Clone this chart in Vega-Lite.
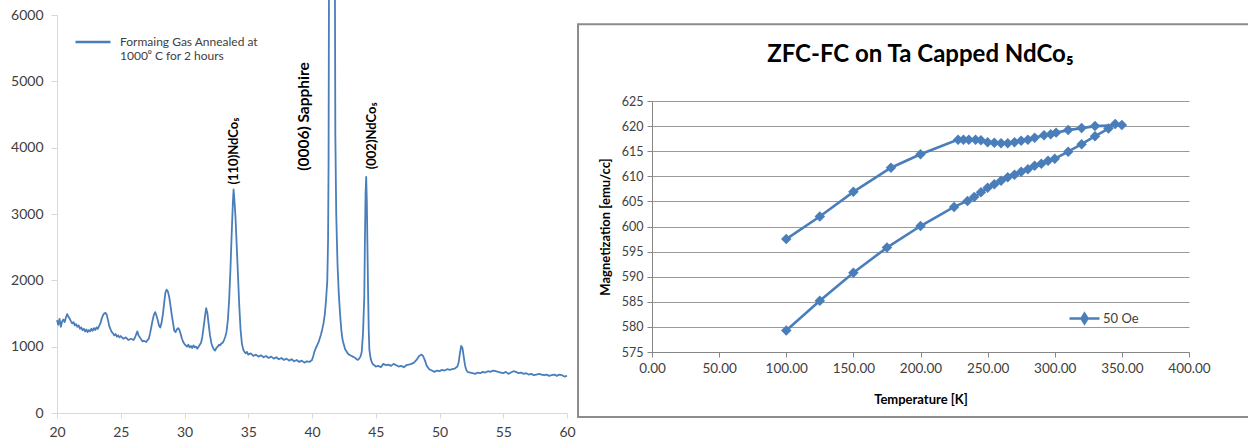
{
  "$schema": "https://vega.github.io/schema/vega-lite/v6.json",
  "background": "white",
  "padding": {"left": 10, "top": -4, "right": 0, "bottom": 0},
  "spacing": 1,
  "resolve": {"scale": {"color": "independent"}, "legend": {"color": "independent"}},
  "config": {
    "font": "Lato",
    "view": {"stroke": null},
    "axis": {"labelFont": "Lato", "titleFont": "Lato", "labelColor": "#404040", "titleColor": "#000000", "labelFlush": false}
  },
  "datasets": {
    "xrd": [
      {"t":20.0,"i":1400},{"t":20.1,"i":1330},{"t":20.2,"i":1420},{"t":20.3,"i":1300},{"t":20.4,"i":1380},{"t":20.5,"i":1410},{"t":20.6,"i":1370},{"t":20.7,"i":1440},{"t":20.8,"i":1490},{"t":20.9,"i":1450},
      {"t":21.0,"i":1420},{"t":21.1,"i":1380},{"t":21.2,"i":1350},{"t":21.3,"i":1370},{"t":21.4,"i":1320},{"t":21.5,"i":1340},{"t":21.6,"i":1300},{"t":21.7,"i":1320},{"t":21.8,"i":1270},{"t":21.9,"i":1290},
      {"t":22.0,"i":1250},{"t":22.1,"i":1270},{"t":22.2,"i":1230},{"t":22.3,"i":1260},{"t":22.4,"i":1220},{"t":22.5,"i":1250},{"t":22.6,"i":1230},{"t":22.7,"i":1270},{"t":22.8,"i":1240},{"t":22.9,"i":1280},
      {"t":23.0,"i":1250},{"t":23.1,"i":1290},{"t":23.2,"i":1270},{"t":23.3,"i":1310},{"t":23.4,"i":1350},{"t":23.5,"i":1420},{"t":23.6,"i":1470},{"t":23.7,"i":1500},{"t":23.8,"i":1510},{"t":23.9,"i":1480},
      {"t":24.0,"i":1400},{"t":24.1,"i":1310},{"t":24.2,"i":1260},{"t":24.3,"i":1220},{"t":24.4,"i":1200},{"t":24.5,"i":1170},{"t":24.6,"i":1190},{"t":24.7,"i":1150},{"t":24.8,"i":1170},{"t":24.9,"i":1140},
      {"t":25.0,"i":1160},{"t":25.2,"i":1120},{"t":25.4,"i":1140},{"t":25.6,"i":1100},{"t":25.8,"i":1120},{"t":26.0,"i":1100},{"t":26.1,"i":1130},{"t":26.2,"i":1180},{"t":26.3,"i":1230},{"t":26.4,"i":1170},
      {"t":26.5,"i":1140},{"t":26.6,"i":1110},{"t":26.7,"i":1080},{"t":26.8,"i":1090},{"t":27.0,"i":1070},{"t":27.1,"i":1100},{"t":27.2,"i":1120},{"t":27.3,"i":1200},{"t":27.4,"i":1300},{"t":27.5,"i":1400},
      {"t":27.6,"i":1480},{"t":27.7,"i":1520},{"t":27.8,"i":1470},{"t":27.9,"i":1400},{"t":28.0,"i":1320},{"t":28.1,"i":1290},{"t":28.2,"i":1360},{"t":28.3,"i":1480},{"t":28.4,"i":1650},{"t":28.5,"i":1810},
      {"t":28.6,"i":1860},{"t":28.7,"i":1830},{"t":28.8,"i":1750},{"t":28.9,"i":1620},{"t":29.0,"i":1480},{"t":29.1,"i":1360},{"t":29.2,"i":1240},{"t":29.3,"i":1220},{"t":29.4,"i":1260},{"t":29.5,"i":1280},
      {"t":29.6,"i":1250},{"t":29.7,"i":1190},{"t":29.8,"i":1120},{"t":29.9,"i":1070},{"t":30.0,"i":1040},{"t":30.1,"i":1020},{"t":30.2,"i":1000},{"t":30.3,"i":1030},{"t":30.4,"i":990},{"t":30.5,"i":1010},
      {"t":30.6,"i":980},{"t":30.7,"i":1020},{"t":30.8,"i":990},{"t":30.9,"i":1000},{"t":31.0,"i":970},{"t":31.1,"i":1000},{"t":31.2,"i":1030},{"t":31.3,"i":1060},{"t":31.4,"i":1150},{"t":31.5,"i":1300},
      {"t":31.6,"i":1450},{"t":31.7,"i":1580},{"t":31.8,"i":1500},{"t":31.9,"i":1330},{"t":32.0,"i":1170},{"t":32.1,"i":1060},{"t":32.2,"i":1000},{"t":32.3,"i":960},{"t":32.4,"i":940},{"t":32.5,"i":980},
      {"t":32.6,"i":1000},{"t":32.7,"i":1030},{"t":32.8,"i":1020},{"t":32.9,"i":1050},{"t":33.0,"i":1060},{"t":33.1,"i":1100},{"t":33.2,"i":1150},{"t":33.3,"i":1230},{"t":33.4,"i":1400},{"t":33.5,"i":1700},
      {"t":33.6,"i":2150},{"t":33.7,"i":2700},{"t":33.8,"i":3200},{"t":33.85,"i":3370},{"t":33.9,"i":3250},{"t":34.0,"i":2950},{"t":34.1,"i":2500},{"t":34.2,"i":2050},{"t":34.3,"i":1600},{"t":34.4,"i":1250},
      {"t":34.5,"i":1050},{"t":34.6,"i":960},{"t":34.7,"i":920},{"t":34.8,"i":900},{"t":34.9,"i":920},{"t":35.0,"i":880},{"t":35.2,"i":900},{"t":35.4,"i":860},{"t":35.6,"i":880},{"t":35.8,"i":850},
      {"t":36.0,"i":870},{"t":36.2,"i":840},{"t":36.4,"i":860},{"t":36.6,"i":830},{"t":36.8,"i":850},{"t":37.0,"i":820},{"t":37.2,"i":840},{"t":37.4,"i":810},{"t":37.6,"i":830},{"t":37.8,"i":800},
      {"t":38.0,"i":820},{"t":38.2,"i":790},{"t":38.4,"i":810},{"t":38.6,"i":780},{"t":38.8,"i":800},{"t":39.0,"i":770},{"t":39.2,"i":790},{"t":39.4,"i":760},{"t":39.6,"i":780},{"t":39.8,"i":770},
      {"t":40.0,"i":800},{"t":40.1,"i":860},{"t":40.2,"i":930},{"t":40.3,"i":980},{"t":40.4,"i":1020},{"t":40.5,"i":1060},{"t":40.6,"i":1120},{"t":40.7,"i":1180},{"t":40.8,"i":1260},{"t":40.9,"i":1350},
      {"t":41.0,"i":1480},{"t":41.1,"i":1700},{"t":41.2,"i":2000},{"t":41.26,"i":2600},{"t":41.3,"i":3800},{"t":41.33,"i":6260},{"t":41.8,"i":6260},{"t":41.83,"i":4200},
      {"t":41.9,"i":3000},{"t":42.0,"i":2250},{"t":42.1,"i":1800},{"t":42.2,"i":1500},{"t":42.3,"i":1250},{"t":42.4,"i":1100},{"t":42.5,"i":1030},{"t":42.6,"i":960},{"t":42.7,"i":930},
      {"t":42.8,"i":900},{"t":42.9,"i":880},{"t":43.0,"i":870},{"t":43.1,"i":860},{"t":43.2,"i":850},{"t":43.3,"i":840},{"t":43.4,"i":830},{"t":43.5,"i":810},{"t":43.6,"i":800},{"t":43.7,"i":820},
      {"t":43.8,"i":850},{"t":43.9,"i":920},{"t":44.0,"i":1200},{"t":44.1,"i":1750},{"t":44.15,"i":2600},{"t":44.2,"i":3300},{"t":44.25,"i":3560},{"t":44.3,"i":3200},{"t":44.35,"i":2500},{"t":44.4,"i":1800},
      {"t":44.45,"i":1250},{"t":44.5,"i":950},{"t":44.6,"i":820},{"t":44.7,"i":760},{"t":44.8,"i":730},{"t":44.9,"i":720},{"t":45.0,"i":700},{"t":45.2,"i":710},{"t":45.4,"i":690},{"t":45.6,"i":740},
      {"t":45.8,"i":720},{"t":46.0,"i":730},{"t":46.2,"i":710},{"t":46.4,"i":740},{"t":46.6,"i":720},{"t":46.8,"i":700},{"t":47.0,"i":710},{"t":47.2,"i":690},{"t":47.4,"i":720},{"t":47.6,"i":730},
      {"t":47.8,"i":740},{"t":48.0,"i":760},{"t":48.2,"i":800},{"t":48.4,"i":860},{"t":48.5,"i":870},{"t":48.6,"i":880},{"t":48.7,"i":860},{"t":48.8,"i":820},{"t":48.9,"i":770},{"t":49.0,"i":710},
      {"t":49.2,"i":660},{"t":49.4,"i":640},{"t":49.6,"i":620},{"t":49.8,"i":640},{"t":50.0,"i":630},{"t":50.2,"i":650},{"t":50.4,"i":640},{"t":50.6,"i":660},{"t":50.8,"i":650},{"t":51.0,"i":660},
      {"t":51.2,"i":670},{"t":51.4,"i":700},{"t":51.5,"i":760},{"t":51.6,"i":900},{"t":51.7,"i":1010},{"t":51.8,"i":980},{"t":51.9,"i":850},{"t":52.0,"i":720},{"t":52.1,"i":650},{"t":52.2,"i":620},
      {"t":52.4,"i":610},{"t":52.6,"i":600},{"t":52.8,"i":590},{"t":53.0,"i":610},{"t":53.2,"i":600},{"t":53.4,"i":620},{"t":53.6,"i":610},{"t":53.8,"i":630},{"t":54.0,"i":620},{"t":54.2,"i":640},
      {"t":54.4,"i":630},{"t":54.6,"i":620},{"t":54.8,"i":610},{"t":55.0,"i":600},{"t":55.2,"i":620},{"t":55.4,"i":590},{"t":55.6,"i":610},{"t":55.8,"i":630},{"t":56.0,"i":620},{"t":56.2,"i":600},
      {"t":56.4,"i":610},{"t":56.6,"i":590},{"t":56.8,"i":600},{"t":57.0,"i":580},{"t":57.2,"i":590},{"t":57.4,"i":570},{"t":57.6,"i":580},{"t":57.8,"i":590},{"t":58.0,"i":580},{"t":58.2,"i":570},
      {"t":58.4,"i":580},{"t":58.6,"i":560},{"t":58.8,"i":570},{"t":59.0,"i":580},{"t":59.2,"i":560},{"t":59.4,"i":580},{"t":59.6,"i":570},{"t":59.8,"i":550},{"t":60.0,"i":560}
    ],
    "peaks": [
      {"t":33.88,"i":3950,"label":"(110)NdCo₅","kind":"film"},
      {"t":39.41,"i":4470,"label":"(0006) Sapphire","kind":"substrate"},
      {"t":44.67,"i":4180,"label":"(002)NdCo₅","kind":"film"}
    ],
    "mag": [
      {"o":1,"T":100,"M":579.3},{"o":2,"T":125,"M":585.2},{"o":3,"T":150,"M":590.8},{"o":4,"T":175,"M":595.8},{"o":5,"T":200,"M":600.1},
      {"o":6,"T":225,"M":603.9},{"o":7,"T":235,"M":605.1},{"o":8,"T":240,"M":605.9},{"o":9,"T":245,"M":606.8},{"o":10,"T":250,"M":607.7},
      {"o":11,"T":255,"M":608.4},{"o":12,"T":260,"M":609.1},{"o":13,"T":265,"M":609.8},{"o":14,"T":270,"M":610.3},{"o":15,"T":275,"M":610.9},
      {"o":16,"T":280,"M":611.4},{"o":17,"T":285,"M":612.1},{"o":18,"T":290,"M":612.5},{"o":19,"T":295,"M":613.1},{"o":20,"T":300,"M":613.5},
      {"o":21,"T":310,"M":614.9},{"o":22,"T":320,"M":616.4},{"o":23,"T":330,"M":618.0},{"o":24,"T":340,"M":619.5},{"o":25,"T":345,"M":620.4},
      {"o":26,"T":350,"M":620.2},{"o":27,"T":330,"M":620.0},{"o":28,"T":320,"M":619.6},{"o":29,"T":310,"M":619.2},{"o":30,"T":301,"M":618.7},
      {"o":31,"T":297,"M":618.4},{"o":32,"T":292,"M":618.2},{"o":33,"T":285,"M":617.7},{"o":34,"T":280,"M":617.3},{"o":35,"T":275,"M":617.1},
      {"o":36,"T":270,"M":616.8},{"o":37,"T":265,"M":616.6},{"o":38,"T":260,"M":616.6},{"o":39,"T":255,"M":616.7},{"o":40,"T":250,"M":616.8},
      {"o":41,"T":245,"M":617.2},{"o":42,"T":241,"M":617.3},{"o":43,"T":236,"M":617.3},{"o":44,"T":232,"M":617.3},{"o":45,"T":228,"M":617.3},
      {"o":46,"T":200,"M":614.4},{"o":47,"T":178,"M":611.7},{"o":48,"T":150,"M":606.9},{"o":49,"T":125,"M":602.0},{"o":50,"T":100,"M":597.5}
    ]
  },
  "hconcat": [
    {
      "width": 510,
      "height": 251,
      "layer": [
        {
          "data": {"name": "xrd"},
          "mark": {"type": "line", "clip": false, "strokeWidth": 1.8, "strokeJoin": "round", "interpolate": "linear"},
          "encoding": {
            "x": {"field": "t", "type": "quantitative",
              "scale": {"domain": [20, 60], "nice": false, "zero": false},
              "axis": {"values": [20,25,30,35,40,45,50,55,60], "tickCount": 9, "title": null, "grid": false, "offset": 61,
                "domainColor": "#d9d9d9", "tickColor": "#d9d9d9", "tickSize": 5,
                "labelFontSize": 14, "labelPadding": 7}},
            "y": {"field": "i", "type": "quantitative",
              "scale": {"domain": [0, 6000], "nice": false, "range": [312, -86]},
              "axis": {"values": [0,1000,2000,3000,4000,5000,6000], "tickCount": 7, "format": "d", "title": null, "grid": false,
                "domainColor": "#d9d9d9", "tickColor": "#d9d9d9", "tickSize": 6,
                "labelFontSize": 14, "labelPadding": 8}},
            "color": {"datum": "Formaing Gas Annealed at 1000⁰ C for 2 hours", "type": "nominal",
              "scale": {"range": ["#4a7ebb"]},
              "legend": {"title": null, "orient": "none", "legendX": 17, "legendY": -78, "padding": 0,
                "symbolType": "stroke", "symbolSize": 1225, "symbolStrokeWidth": 2.4,
                "labelFontSize": 12, "labelColor": "#404040", "labelOffset": 8, "labelLimit": 300,
                "labelExpr": "[slice(datum.label, 0, 24), slice(datum.label, 25)]"}}
          }
        },
        {
          "data": {"name": "peaks"},
          "mark": {"type": "text", "angle": 270, "align": "center", "baseline": "middle", "fontWeight": "bold", "color": "#000000"},
          "encoding": {
            "x": {"field": "t", "type": "quantitative"},
            "y": {"field": "i", "type": "quantitative"},
            "text": {"field": "label"},
            "size": {"field": "kind", "type": "nominal", "scale": {"domain": ["film", "substrate"], "range": [13, 15.5]}, "legend": null}
          }
        }
      ]
    },
    {
      "width": 537,
      "height": 251,
      "title": {"text": "ZFC-FC on Ta Capped NdCo₅", "fontSize": 24, "fontWeight": "bold", "font": "Lato", "color": "#000000", "offset": -44, "anchor": "middle"},
      "layer": [
        {
          "data": {"name": "mag"},
          "mark": {"type": "line", "strokeWidth": 2.6, "point": {"shape": "diamond", "filled": true, "size": 110, "opacity": 1}},
          "encoding": {
            "x": {"field": "T", "type": "quantitative",
              "scale": {"domain": [0, 400], "nice": false, "zero": false},
              "axis": {"values": [0,50,100,150,200,250,300,350,400], "tickCount": 9, "format": ".2f", "grid": false,
                "title": "Temperature [K]", "titleFontSize": 13, "titleFontWeight": "bold", "titlePadding": 19,
                "domainColor": "#868686", "tickColor": "#868686", "tickSize": 5,
                "labelFontSize": 13.5, "labelPadding": 4}},
            "y": {"field": "M", "type": "quantitative",
              "scale": {"domain": [575, 625], "nice": false, "zero": false},
              "axis": {"values": [575,580,585,590,595,600,605,610,615,620,625], "tickCount": 11, "grid": true, "gridColor": "#9a9a9a",
                "title": "Magnetization  [emu/cc]", "titleFontSize": 13, "titleFontWeight": "bold", "titlePadding": 9,
                "domainColor": "#868686", "tickColor": "#868686", "tickSize": 5,
                "labelFontSize": 12.5, "labelPadding": 4}},
            "order": {"field": "o", "type": "quantitative"},
            "color": {"datum": "50 Oe", "type": "nominal",
              "scale": {"range": ["#4a7ebb"]},
              "legend": {"title": null, "orient": "none", "legendX": 416, "legendY": 201, "padding": 0,
                "symbolType": "M-1,0L1,0M0,-0.33L0.2,0L0,0.33L-0.2,0Z", "symbolSize": 900, "symbolStrokeWidth": 2.5,
                "symbolFillColor": "#4a7ebb", "symbolStrokeColor": "#4a7ebb",
                "labelFontSize": 13, "labelColor": "#404040", "labelOffset": 2}}
          }
        },
        {
          "data": {"values": [{}]},
          "mark": {"type": "rect", "filled": false, "stroke": "#8c8c8c", "strokeWidth": 2},
          "encoding": {
            "x": {"datum": -55.1, "type": "quantitative"},
            "x2": {"datum": 446},
            "y": {"datum": 640.3, "type": "quantitative"},
            "y2": {"datum": 562.05}
          }
        }
      ]
    }
  ]
}
